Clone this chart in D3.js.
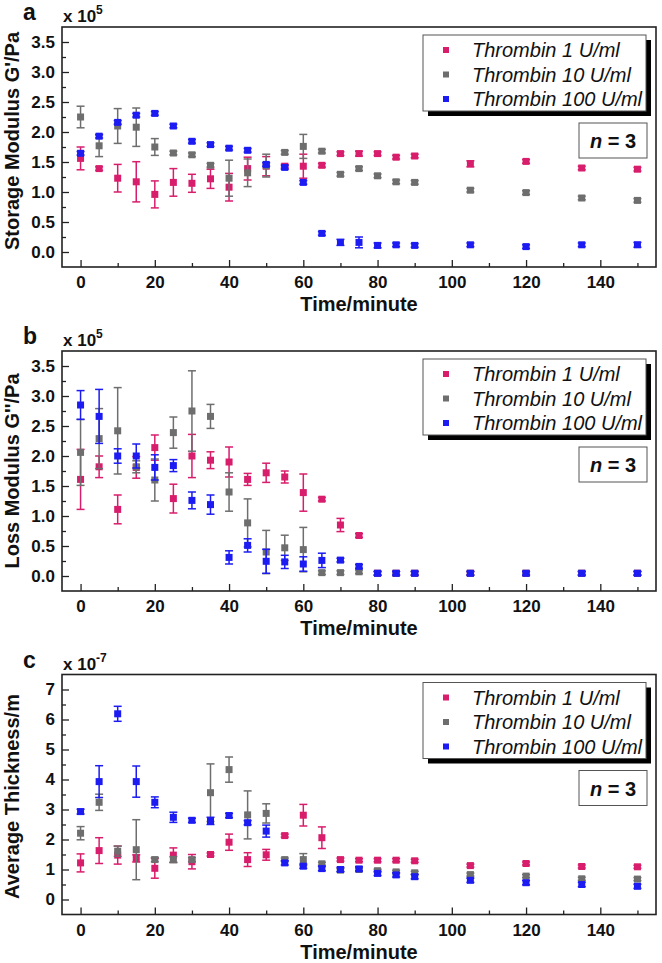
<!DOCTYPE html>
<html><head><meta charset="utf-8">
<script src="https://cdn.jsdelivr.net/npm/d3@7"></script>
<style>body{margin:0;background:#fff}svg{display:block}</style>
</head><body>
<script>
const times = [0,5,10,15,20,25,30,35,40,45,50,55,60,65,70,75,80,85,90,105,120,135,150];
const seriesNames = ["Thrombin 1 U/ml","Thrombin 10 U/ml","Thrombin 100 U/ml"];
const seriesColors = ["#d81d6c","#6e6e6e","#1c1cf2"];

const storage1 = [1.56,1.39,1.23,1.17,0.96,1.16,1.145,1.22,1.08,1.39,1.43,1.43,1.43,1.445,1.64,1.64,1.64,1.58,1.60,1.47,1.51,1.40,1.38];
const storage1Err = [0.19,0.03,0.23,0.335,0.225,0.23,0.15,0.16,0.23,0.19,0.16,0.03,0.2,0.03,0.03,0.04,0.03,0.03,0.03,0.05,0.03,0.03,0.03];
const storage10 = [2.25,1.77,2.10,2.08,1.75,1.65,1.62,1.445,1.23,1.32,1.44,1.66,1.76,1.68,1.295,1.39,1.27,1.17,1.16,1.03,0.99,0.90,0.86];
const storage10Err = [0.18,0.18,0.29,0.32,0.14,0.03,0.03,0.03,0.3,0.23,0.19,0.03,0.2,0.03,0.03,0.03,0.03,0.03,0.03,0.03,0.03,0.03,0.03];
const storage100 = [1.645,1.93,2.16,2.28,2.31,2.10,1.845,1.79,1.73,1.695,1.46,1.41,1.16,0.31,0.16,0.16,0.11,0.12,0.11,0.12,0.09,0.12,0.12];
const storage100Err = [0.03,0.03,0.03,0.03,0.03,0.03,0.03,0.03,0.03,0.03,0.03,0.03,0.03,0.03,0.05,0.09,0.04,0.03,0.03,0.03,0.03,0.03,0.04];

const loss1 = [1.61,1.82,1.11,1.81,2.14,1.29,2.00,1.93,1.90,1.61,1.72,1.65,1.39,1.28,0.85,0.675,0.045,0.045,0.045,0.045,0.045,0.045,0.045];
const loss1Err = [0.5,0.18,0.24,0.18,0.21,0.24,0.36,0.14,0.25,0.1,0.16,0.1,0.31,0.03,0.11,0.03,0.03,0.03,0.03,0.03,0.03,0.03,0.03];
const loss10 = [2.06,2.29,2.42,1.82,1.60,2.39,2.75,2.66,1.40,0.885,0.40,0.47,0.44,0.056,0.056,0.07,0.045,0.045,0.045,0.045,0.045,0.045,0.045];
const loss10Err = [0.55,0.5,0.72,0.1,0.35,0.26,0.67,0.2,0.32,0.4,0.36,0.21,0.37,0.03,0.03,0.03,0.03,0.03,0.03,0.03,0.03,0.03,0.03];
const loss100 = [2.85,2.66,2.00,2.00,1.81,1.84,1.26,1.19,0.31,0.51,0.245,0.235,0.20,0.26,0.265,0.16,0.045,0.045,0.045,0.045,0.045,0.045,0.045];
const loss100Err = [0.24,0.45,0.12,0.2,0.21,0.1,0.14,0.16,0.11,0.11,0.2,0.11,0.12,0.12,0.03,0.03,0.03,0.03,0.03,0.03,0.03,0.03,0.03];

const thick1 = [1.22,1.63,1.48,1.37,1.04,1.48,1.26,1.50,1.91,1.33,1.49,2.13,2.81,2.06,1.33,1.31,1.31,1.31,1.29,1.13,1.20,1.10,1.09];
const thick1Err = [0.3,0.43,0.3,0.12,0.33,0.24,0.24,0.05,0.27,0.23,0.18,0.05,0.36,0.36,0.05,0.05,0.05,0.05,0.05,0.05,0.05,0.05,0.05];
const thick10 = [2.21,3.24,1.61,1.66,1.33,1.33,1.33,3.56,4.33,2.82,2.87,1.33,1.33,1.19,0.98,1.0,0.96,0.92,0.89,0.83,0.78,0.69,0.68];
const thick10Err = [0.22,0.27,0.17,1.0,0.07,0.1,0.07,0.96,0.42,0.8,0.32,0.05,0.2,0.05,0.05,0.05,0.05,0.05,0.05,0.05,0.05,0.05,0.05];
const thick100 = [2.93,3.93,6.19,3.93,3.24,2.74,2.64,2.62,2.80,2.56,2.28,1.22,1.11,1.03,1.0,1.02,0.87,0.82,0.76,0.64,0.56,0.50,0.44];
const thick100Err = [0.08,0.53,0.25,0.52,0.18,0.17,0.07,0.12,0.07,0.07,0.2,0.07,0.07,0.07,0.07,0.07,0.07,0.07,0.07,0.07,0.07,0.07,0.07];

const xMajorTicks = [0,20,40,60,80,100,120,140];
const xMinorTicks = [10,30,50,70,90,110,130,150];
const abMajorTicks = [0,0.5,1.0,1.5,2.0,2.5,3.0,3.5];
const abMinorTicks = [0.25,0.75,1.25,1.75,2.25,2.75,3.25];
const cMajorTicks = [0,1,2,3,4,5,6,7];
const cMinorTicks = [0.5,1.5,2.5,3.5,4.5,5.5,6.5];

const panels = [
  {letter:"a", ylabel:"Storage Modulus G'/Pa", exp:"5", domain:[-0.25,3.75], major:abMajorTicks, minor:abMinorTicks, fmt:d3.format(".1f"),
   data:[[storage1,storage1Err],[storage10,storage10Err],[storage100,storage100Err]], top:27, labelShift:-6},
  {letter:"b", ylabel:"Loss Modulus G''/Pa", exp:"5", domain:[-0.25,3.75], major:abMajorTicks, minor:abMinorTicks, fmt:d3.format(".1f"),
   data:[[loss1,loss1Err],[loss10,loss10Err],[loss100,loss100Err]], top:351, labelShift:0},
  {letter:"c", ylabel:"Average Thickness/m", exp:"-7", domain:[-0.5,7.5], major:cMajorTicks, minor:cMinorTicks, fmt:d3.format("d"),
   data:[[thick1,thick1Err],[thick10,thick10Err],[thick100,thick100Err]], top:674.5, labelShift:2}
];

const W=662,H=963;
const FONT = "'Liberation Sans', Arial, Helvetica, sans-serif";
const svg = d3.select("body").append("svg").attr("width",W).attr("height",H);
svg.append("rect").attr("width",W).attr("height",H).attr("fill","#fff");

const left=62, right=656, ph=240;
const x = d3.scaleLinear().domain([-5,155]).range([left,right]);

panels.forEach(p=>{
  const top=p.top, bottom=top+ph;
  const y = d3.scaleLinear().domain(p.domain).range([bottom,top]);
  const g = svg.append("g");

  // axes (inward ticks)
  g.append("g").attr("transform",`translate(0,${bottom})`)
    .call(d3.axisBottom(x).tickValues(xMajorTicks).tickSize(-7).tickPadding(9).tickFormat(d3.format("d")));
  g.append("g").attr("transform",`translate(0,${bottom})`)
    .call(d3.axisBottom(x).tickValues(xMinorTicks).tickSize(-4).tickFormat(""));
  g.append("g").attr("transform",`translate(${left},0)`)
    .call(d3.axisLeft(y).tickValues(p.major).tickSize(-7).tickPadding(7).tickFormat(p.fmt));
  g.append("g").attr("transform",`translate(${left},0)`)
    .call(d3.axisLeft(y).tickValues(p.minor).tickSize(-4).tickFormat(""));
  g.selectAll(".domain").remove();
  g.selectAll(".tick line").attr("stroke","#222").attr("stroke-width",1.3);
  g.selectAll(".tick text").attr("font-family",FONT).attr("font-weight","bold").attr("font-size",17).attr("fill","#111");

  // frame
  g.append("rect").attr("x",left).attr("y",top).attr("width",right-left).attr("height",ph)
    .attr("fill","none").attr("stroke","#222").attr("stroke-width",1.6);

  // data
  [0,1,2].forEach(si=>{
    const [vals,errs]=p.data[si];
    const col=seriesColors[si];
    const sg=g.append("g");
    times.forEach((t,i)=>{
      const cx=x(t), v=vals[i], e=errs[i];
      sg.append("line").attr("x1",cx).attr("x2",cx).attr("y1",y(v-e)).attr("y2",y(v+e)).attr("stroke",col).attr("stroke-width",1.5);
      [v-e,v+e].forEach(c=>{
        sg.append("line").attr("x1",cx-4).attr("x2",cx+4).attr("y1",y(c)).attr("y2",y(c)).attr("stroke",col).attr("stroke-width",1.5);
      });
      sg.append("rect").attr("x",cx-3.5).attr("y",y(v)-3.5).attr("width",7).attr("height",7).attr("fill",col);
    });
  });

  // panel letter
  svg.append("text").attr("x",23).attr("y",top-7).attr("font-family",FONT).attr("font-weight","bold")
    .attr("font-size",23).attr("fill","#111").text(p.letter);
  // exponent
  const ex = svg.append("text").attr("x",left+1).attr("y",top-5).attr("font-family",FONT).attr("font-weight","bold")
    .attr("font-size",17).attr("fill","#111");
  ex.append("tspan").text("x 10");
  ex.append("tspan").attr("font-size",12).attr("dy",-8).text(p.exp);

  // y label
  svg.append("text").attr("transform",`translate(19,${top+ph/2+p.labelShift}) rotate(-90)`).attr("text-anchor","middle")
    .attr("font-family",FONT).attr("font-weight","bold").attr("font-size",20).attr("fill","#111").text(p.ylabel);
  // x label
  svg.append("text").attr("x",(left+right)/2).attr("y",bottom+44).attr("text-anchor","middle")
    .attr("font-family",FONT).attr("font-weight","bold").attr("font-size",20).attr("fill","#111").text("Time/minute");

  // legend
  const lx=423, ly=top+8, lw=223, lh=76;
  svg.append("rect").attr("x",lx+5).attr("y",ly+5).attr("width",lw).attr("height",lh).attr("fill","#000");
  svg.append("rect").attr("x",lx).attr("y",ly).attr("width",lw).attr("height",lh).attr("fill","#fff").attr("stroke","#555").attr("stroke-width",1);
  seriesNames.forEach((n,i)=>{
    const ry=ly+15+i*24.5;
    svg.append("rect").attr("x",lx+20).attr("y",ry-3).attr("width",6).attr("height",6).attr("fill",seriesColors[i]);
    svg.append("text").attr("x",lx+49).attr("y",ry+7).attr("font-family",FONT).attr("font-style","italic")
      .attr("font-size",20).attr("fill","#111").text(n);
  });
  // n = 3 box
  svg.append("rect").attr("x",579).attr("y",top+96).attr("width",68).attr("height",35).attr("fill","#fff").attr("stroke","#555").attr("stroke-width",1);
  const nt = svg.append("text").attr("x",613).attr("y",top+121).attr("text-anchor","middle").attr("font-family",FONT)
    .attr("font-weight","bold").attr("font-size",20).attr("fill","#111");
  nt.append("tspan").attr("font-style","italic").text("n");
  nt.append("tspan").text(" = 3");
});
</script>
</body></html>
